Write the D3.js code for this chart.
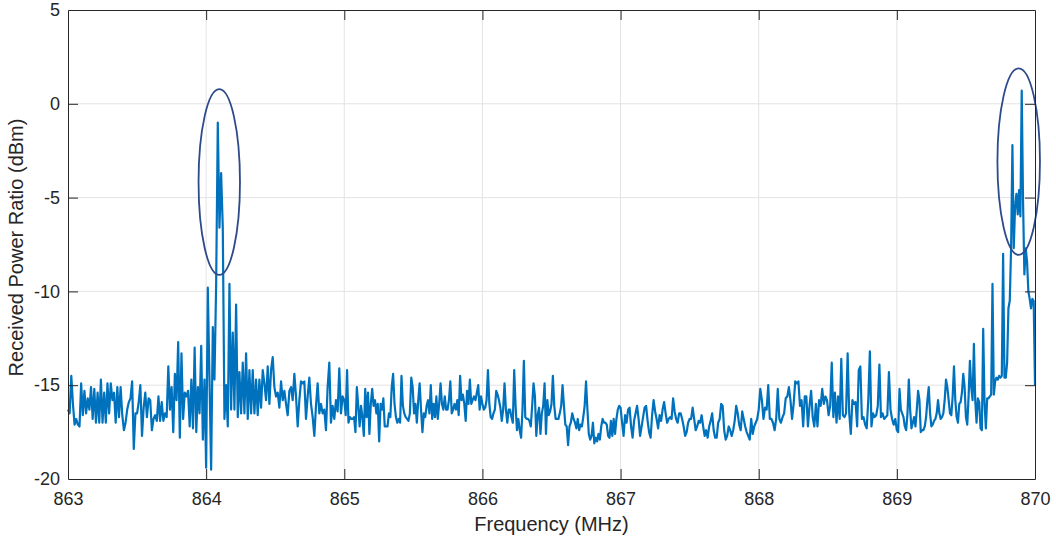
<!DOCTYPE html>
<html>
<head>
<meta charset="utf-8">
<script src="https://cdn.jsdelivr.net/npm/d3@7"></script>
<style>
  body { margin: 0; background: #fff; }
  svg { display: block; font-family: 'Liberation Sans', Arial, sans-serif; }
</style>
</head>
<body>
<svg id="chart" width="1056" height="540"></svg>
<script>
// received power (dBm), one array per 1 MHz band, read left to right
const band863 = [
  -16.3, -16.5, -14.5, -16.0, -17.1, -16.8, -17.1, -17.2, -14.9, -16.6,
  -15.3, -16.5, -15.7, -16.3, -15.1, -16.8, -15.2, -17.0, -15.4, -17.0,
  -14.7, -17.0, -15.4, -17.0, -14.9, -16.5, -14.9, -15.8, -15.4, -17.0,
  -15.1, -16.7, -15.1, -16.6, -17.4, -17.0, -16.3, -15.9, -15.7, -14.8,
  -18.4, -16.5, -16.5, -15.9, -15.0, -17.7, -16.2, -15.4, -16.7, -15.7,
  -15.8, -17.4, -16.8, -16.6, -16.9, -15.6, -16.9, -15.9, -16.9, -16.5,
  -16.7, -14.0, -16.3, -15.1, -17.5, -14.4, -15.8, -12.7, -17.8, -13.3,
  -16.8, -15.4, -15.6, -15.3, -17.2, -14.7, -17.3, -13.0, -17.5, -15.1,
  -16.5, -12.9, -17.9, -14.7
]
const band864 = [
  -19.4, -9.8, -14.7, -19.5, -11.9, -14.7, -9.7, -1.0, -6.6, -3.7,
  -6.6, -16.8, -15.0, -17.2, -9.6, -16.3, -12.2, -16.3, -10.7, -16.7,
  -14.3, -16.5, -13.8, -16.5, -13.3, -16.8, -14.2, -16.5, -14.2, -16.5,
  -14.7, -16.6, -14.7, -16.2, -14.2, -14.9, -15.8, -14.0, -16.0, -14.2,
  -13.5, -15.1, -15.6, -15.4, -16.2, -14.8, -15.8, -15.3, -16.0, -16.6,
  -15.3, -15.1, -15.8, -14.4, -15.6, -17.2, -15.8, -14.8, -14.9, -14.8,
  -16.8, -15.6, -14.6, -16.0, -16.7, -17.7, -16.1, -14.9, -16.5, -16.0,
  -16.5, -16.3, -17.4, -15.1, -13.8, -17.0, -16.1, -16.8, -15.8, -16.4,
  -14.1, -16.5, -15.6
]
const band865 = [
  -15.8, -16.6, -14.2, -17.0, -16.7, -16.8, -16.8, -16.7, -17.5, -15.1,
  -16.1, -17.2, -16.1, -16.7, -17.7, -15.2, -16.7, -15.4, -17.6, -16.0,
  -15.2, -16.1, -15.8, -16.5, -16.0, -18.0, -16.0, -16.3, -15.7, -17.2,
  -17.2, -17.2, -16.5, -16.7, -15.1, -14.4, -16.0, -16.7, -17.0, -16.8,
  -17.0, -14.5, -16.1, -16.5, -16.7, -16.8, -16.9, -16.5, -14.6, -15.1,
  -16.5, -16.0, -17.0, -15.8, -14.9, -16.3, -17.5, -16.5, -16.7, -16.1,
  -15.8, -16.5, -15.0, -16.8, -16.0, -16.7, -15.6, -16.8, -16.0, -14.9,
  -16.0, -16.3, -15.6, -16.3, -16.3, -15.8, -14.8, -16.5, -16.3, -16.0,
  -16.3, -15.8, -16.6, -14.5, -15.8, -15.5, -16.0, -16.9, -15.3, -16.0,
  -14.7, -16.0, -15.8, -15.6, -15.8, -15.4, -15.0, -16.3, -15.6
]
const band866 = [
  -16.0, -16.3, -16.2, -15.8, -14.2, -16.0, -16.7, -16.8, -16.5, -16.3,
  -15.3, -15.5, -15.8, -16.2, -16.9, -16.3, -14.9, -16.3, -17.0, -16.3,
  -16.3, -16.7, -17.0, -14.2, -16.1, -17.4, -16.8, -17.4, -17.8, -16.3,
  -13.7, -16.7, -16.8, -16.8, -16.9, -17.2, -16.1, -14.9, -15.6, -17.7,
  -16.6, -16.2, -17.6, -16.5, -16.1, -14.9, -17.6, -15.8, -16.6, -16.4,
  -16.0, -14.5, -16.1, -16.8, -16.8, -16.8, -16.5, -16.1, -15.0, -16.1,
  -17.1, -17.2, -18.2, -17.2, -17.0, -16.5, -16.8, -17.0, -17.3, -16.8,
  -17.4, -17.1, -17.2, -16.7, -16.1, -14.8, -16.3, -17.6, -17.9, -17.7,
  -17.0, -18.1, -17.8, -18.0, -17.6, -17.9, -17.2, -16.8, -17.0, -17.0,
  -17.1, -17.7, -17.8, -16.9, -17.7, -16.8, -17.6, -16.8, -16.3, -16.1
]
const band867 = [
  -16.2, -17.0, -17.7, -16.6, -17.0, -16.3, -16.2, -17.2, -17.8, -16.9,
  -16.5, -16.1, -16.8, -17.7, -17.2, -16.7, -16.2, -16.1, -16.9, -17.5,
  -17.8, -16.6, -15.8, -16.4, -16.8, -17.3, -16.6, -16.9, -16.3, -15.9,
  -16.5, -17.0, -16.8, -16.7, -16.8, -15.7, -16.4, -16.8, -17.0, -16.5,
  -16.5, -16.8, -17.2, -17.7, -17.5, -17.0, -16.8, -16.8, -16.2, -16.8,
  -17.4, -17.2, -16.9, -17.0, -16.6, -17.2, -17.7, -17.4, -17.8, -17.2,
  -16.9, -16.5, -17.4, -17.8, -17.8, -17.0, -16.8, -16.0, -16.1, -17.4,
  -17.9, -17.7, -17.2, -17.4, -17.7, -17.4, -16.9, -16.1, -16.5, -17.1,
  -17.4, -16.4, -16.8, -17.2, -17.5, -17.7, -17.9, -16.8, -17.6, -17.2,
  -17.0, -16.8
]
const band868 = [
  -16.3, -15.2, -15.8, -16.8, -16.2, -16.3, -15.0, -16.8, -16.8, -17.0,
  -17.4, -16.8, -15.2, -16.8, -17.0, -16.7, -16.5, -15.7, -15.6, -15.1,
  -15.8, -16.8, -16.0, -14.8, -14.9, -14.8, -16.1, -15.8, -17.2, -15.6,
  -15.6, -17.2, -16.1, -15.3, -16.7, -17.2, -16.0, -17.2, -15.8, -16.1,
  -15.2, -16.0, -15.6, -15.8, -16.6, -16.1, -13.8, -16.7, -15.4, -17.0,
  -15.6, -16.8, -13.6, -16.6, -16.7, -16.5, -13.3, -16.5, -17.6, -15.8,
  -16.0, -15.9, -17.2, -14.2, -14.0, -16.8, -16.7, -17.1, -17.3, -15.8,
  -13.2, -17.2, -16.5, -16.7, -16.6, -16.1, -13.9, -16.7, -16.5, -16.8,
  -16.7, -16.6, -14.3, -16.3, -16.8, -17.1, -16.8
]
const band869 = [
  -17.4, -17.5, -15.2, -16.3, -16.5, -16.7, -17.2, -17.4, -16.5, -14.7,
  -16.3, -17.3, -17.0, -16.7, -17.2, -16.3, -15.3, -15.8, -17.5, -17.4,
  -17.4, -17.2, -16.7, -15.8, -15.1, -16.5, -17.2, -17.1, -16.9, -16.8,
  -16.5, -15.8, -16.5, -16.8, -16.7, -16.5, -15.8, -14.7, -15.1, -15.8,
  -16.5, -16.6, -15.6, -14.0, -15.8, -16.7, -17.0, -16.0, -15.9, -15.4,
  -14.4, -15.1, -16.7, -17.1, -15.6, -13.7, -15.1, -15.8, -12.8, -15.8,
  -17.0, -15.7, -15.9, -17.3, -17.4, -12.0, -15.9, -17.3, -15.7, -15.7,
  -15.6, -15.5, -9.6, -15.5, -14.8, -14.6, -14.7, -14.5, -14.6, -14.5,
  -8.0, -14.6, -14.6, -13.8, -10.9, -10.5, -7.7, -2.2, -7.7, -5.5,
  -4.8, -5.9, -4.6, -6.0, 0.7, -5.2, -9.1, -7.7, -8.4, -10.0,
  -10.4, -10.9, -10.4, -10.5, -15.0
]

const bandEdges = [863, 864, 865, 866, 867, 868, 869, 870]
const xTicks = [863, 864, 865, 866, 867, 868, 869, 870]
const yTicks = [-20, -15, -10, -5, 0, 5]

// circled peaks: centre (MHz, dBm) and half extents
const markFreq = [864.095, 869.882]
const markLevel = [-4.17, -3.08]
const markHalfMHz = [0.15, 0.154]
const markHalfDb = [4.95, 4.97]

const bands = [band863, band864, band865, band866, band867, band868, band869]
const points = bands.flatMap((vals, b) => {
  const n = b === bands.length - 1 ? vals.length - 1 : vals.length
  const w = bandEdges[b + 1] - bandEdges[b]
  return vals.map((v, i) => ({ f: bandEdges[b] + w * i / n, p: v }))
})

const width = 1056
const height = 540
const margin = { top: 10, right: 21, bottom: 61, left: 68 }
const innerW = width - margin.left - margin.right
const innerH = height - margin.top - margin.bottom

const svg = d3.select('#chart')
const g = svg.append('g').attr('transform', `translate(${margin.left},${margin.top})`)

const x = d3.scaleLinear().domain([863, 870]).range([0, innerW])
const y = d3.scaleLinear().domain([-20, 5]).range([innerH, 0])

// grid
g.append('g').selectAll('line').data(xTicks.slice(1, -1)).enter().append('line')
  .attr('x1', d => x(d)).attr('x2', d => x(d))
  .attr('y1', 0).attr('y2', innerH)
  .attr('stroke', '#e3e3e3').attr('stroke-width', 1)
g.append('g').selectAll('line').data(yTicks.slice(1, -1)).enter().append('line')
  .attr('x1', 0).attr('x2', innerW)
  .attr('y1', d => y(d)).attr('y2', d => y(d))
  .attr('stroke', '#e3e3e3').attr('stroke-width', 1)

// data line
const line = d3.line().x(d => x(d.f)).y(d => y(d.p))
g.append('path')
  .datum(points)
  .attr('d', line)
  .attr('fill', 'none')
  .attr('stroke', '#0072bd')
  .attr('stroke-width', 2.2)
  .attr('stroke-linejoin', 'round')

// ellipses round the peaks
g.append('g').selectAll('ellipse').data(markFreq).enter().append('ellipse')
  .attr('cx', (d, i) => x(d))
  .attr('cy', (d, i) => y(markLevel[i]))
  .attr('rx', (d, i) => x(d + markHalfMHz[i]) - x(d))
  .attr('ry', (d, i) => y(markLevel[i] - markHalfDb[i]) - y(markLevel[i]))
  .attr('fill', 'none')
  .attr('stroke', '#2d4a8a')
  .attr('stroke-width', 1.8)

// axes, ticks pointing inward like matlab
const axisColor = '#262626'
const fmt = d => String(d)
const xAxis = g.append('g').attr('transform', `translate(0,${innerH})`)
  .call(d3.axisBottom(x).tickValues(xTicks).tickFormat(fmt)
    .tickSizeInner(-10).tickSizeOuter(0).tickPadding(13))
const yAxis = g.append('g')
  .call(d3.axisLeft(y).tickValues(yTicks).tickFormat(fmt)
    .tickSizeInner(-10).tickSizeOuter(0).tickPadding(8))
const topAxis = g.append('g')
  .call(d3.axisTop(x).tickValues(xTicks).tickFormat('').tickSizeInner(-10).tickSizeOuter(0))
const rightAxis = g.append('g').attr('transform', `translate(${innerW},0)`)
  .call(d3.axisRight(y).tickValues(yTicks).tickFormat('').tickSizeInner(-10).tickSizeOuter(0))

;[xAxis, yAxis, topAxis, rightAxis].forEach(a => {
  a.select('.domain').attr('stroke', axisColor).attr('stroke-width', 1)
  a.selectAll('.tick line').attr('stroke', axisColor).attr('stroke-width', 1)
  a.selectAll('.tick text').attr('fill', axisColor).style('font-size', '18px')
    .style('font-family', "'Liberation Sans', Arial, sans-serif")
})
xAxis.selectAll('.tick').filter(d => d === 863 || d === 870).select('line').remove()
yAxis.selectAll('.tick').filter(d => d === -20 || d === 5).select('line').remove()
topAxis.selectAll('.tick').filter(d => d === 863 || d === 870).select('line').remove()
rightAxis.selectAll('.tick').filter(d => d === -20 || d === 5).select('line').remove()

// axis titles
g.append('text')
  .attr('x', innerW / 2)
  .attr('y', innerH + 52)
  .attr('text-anchor', 'middle')
  .attr('fill', axisColor)
  .style('font-size', '20px')
  .text('Frequency (MHz)')

g.append('text')
  .attr('transform', `translate(${23 - margin.left},${innerH / 2 + 3}) rotate(-90)`)
  .attr('text-anchor', 'middle')
  .attr('fill', axisColor)
  .style('font-size', '20px')
  .text('Received Power Ratio (dBm)')
</script>
</body>
</html>
